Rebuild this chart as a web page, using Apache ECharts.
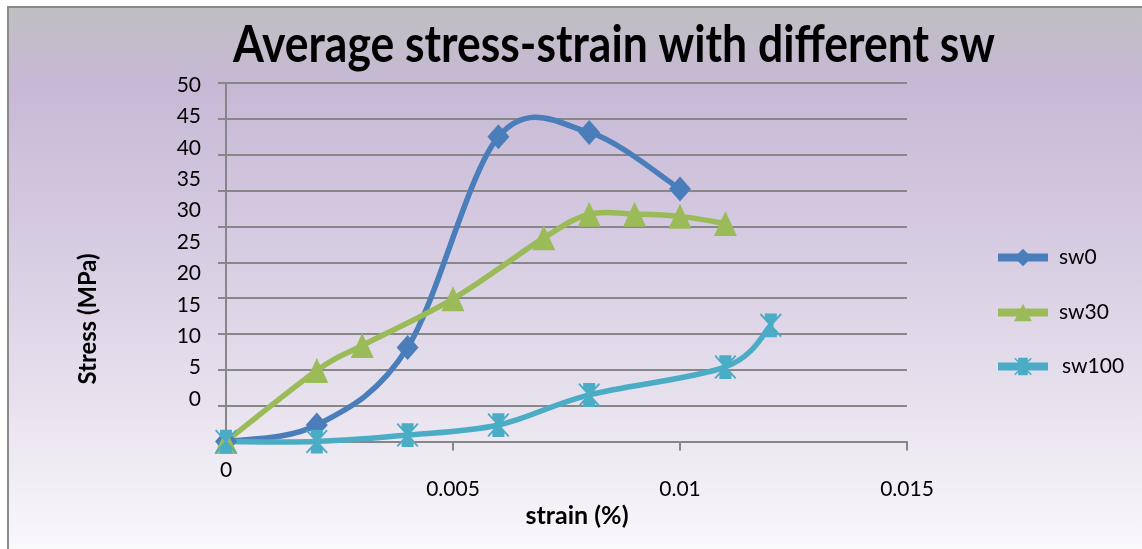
<!DOCTYPE html>
<html>
<head>
<meta charset="utf-8">
<script src="https://cdn.jsdelivr.net/npm/echarts@6/dist/echarts.min.js"></script>
<style>
  html, body { margin: 0; padding: 0; background: #ffffff; }
  #chart { width: 1142px; height: 549px; }
</style>
</head>
<body>
<div id="chart"></div>
<script>
// ---- data ----
const seriesNames = ['sw0', 'sw30', 'sw100'];

const sw0Strain = [0, 0.002, 0.004, 0.006, 0.008, 0.010];
const sw0Stress = [0, 2.3, 13.1, 42.5, 43.1, 35.2];

const sw30Strain = [0, 0.002, 0.003, 0.005, 0.007, 0.008, 0.009, 0.010, 0.011];
const sw30Stress = [0, 9.9, 13.4, 19.9, 28.4, 31.7, 31.7, 31.4, 30.4];

const sw100Strain = [0, 0.002, 0.004, 0.006, 0.008, 0.011, 0.012];
const sw100Stress = [0, 0, 0.9, 2.3, 6.5, 10.4, 16.2];

const stressTicks = [0, 5, 10, 15, 20, 25, 30, 35, 40, 45, 50];
const strainTicks = [0, 0.005, 0.01, 0.015];

const titleText = 'Average stress-strain with different sw';
const xTitle = 'strain (%)';
const yTitle = 'Stress (MPa)';

// ---- styling ----
const COLORS = ['#4a7ebb', '#9bbb59', '#4bacc6'];
const FONT = 'Lato, "Noto Sans", sans-serif';
const AXIS_GRAY = '#878787';
const LINE_W = 5.5;

// asterisk-style marker: filled hourglass with a thin cross through it
const STAR = 'path://M6,1 L18,1 L18,5 L13,12 L18,19 L18,23 L6,23 L6,19 L11,12 L6,5 Z ' +
  'M1,2 L2.4,0.8 L23,21.8 L21.6,23 Z M21.6,0.8 L23,2 L2.4,23 L1,21.8 Z';

function pairs(xs, ys) { return xs.map((x, i) => [x, ys[i]]); }

function textWidth(text, font) {
  const ctx = document.createElement('canvas').getContext('2d');
  ctx.font = font;
  return ctx.measureText(text).width;
}

// Smoothed curve drawn segment by segment (Catmull-Rom style Bezier,
// which lets the curve swing past a peak point the way spreadsheet smoothing does).
function curveSeries(xs, ys, color) {
  return {
    type: 'custom',
    silent: true,
    data: pairs(xs, ys),
    renderItem: function (params, api) {
      const i = params.dataIndex;
      const n = xs.length;
      if (i >= n - 1) return null;
      const P = k => {
        const j = Math.max(0, Math.min(n - 1, k));
        return api.coord([xs[j], ys[j]]);
      };
      const p0 = P(i - 1), p1 = P(i), p2 = P(i + 1), p3 = P(i + 2);
      return {
        type: 'bezierCurve',
        shape: {
          x1: p1[0], y1: p1[1], x2: p2[0], y2: p2[1],
          cpx1: p1[0] + (p2[0] - p0[0]) / 6, cpy1: p1[1] + (p2[1] - p0[1]) / 6,
          cpx2: p2[0] - (p3[0] - p1[0]) / 6, cpy2: p2[1] - (p3[1] - p1[1]) / 6
        },
        style: { stroke: color, lineWidth: LINE_W, fill: null, lineCap: 'round' }
      };
    }
  };
}

function markerSeries(idx, xs, ys, symbol, size) {
  return {
    name: seriesNames[idx], type: 'line',
    data: pairs(xs, ys),
    symbol: symbol, symbolSize: size, showAllSymbol: true,
    lineStyle: { color: COLORS[idx], width: LINE_W, opacity: 0 },
    itemStyle: { color: COLORS[idx] },
    z: 3
  };
}

// plot area
const G = { left: 226, top: 83, right: 235, bottom: 107.5 };
const plotH = 549 - G.top - G.bottom;
// tick labels sit on a slightly compressed scale: "0" at y=399, "50" at y=85
const labelPx = (399 - 85) / (stressTicks[stressTicks.length - 1] - stressTicks[0]);
const labelMin = -((549 - G.bottom) - 399) / labelPx;
const labelMax = labelMin + plotH / labelPx;

const titleFont = 'bold 52px ' + FONT;
const axisTitleFont = 'bold 24px ' + FONT;

const chart = echarts.init(document.getElementById('chart'), null, { renderer: 'canvas' });

const option = {
  animation: false,
  backgroundColor: '#ffffff',
  grid: Object.assign({ containLabel: false, outerBoundsMode: 'none' }, G),
  graphic: [
    {
      type: 'rect', z: -10, silent: true,
      shape: { x: 8, y: 7, width: 1160, height: 560 },
      style: {
        fill: {
          type: 'linear', x: 0, y: 0, x2: 0, y2: 1,
          colorStops: [
            { offset: 0, color: '#bfbfc0' },
            { offset: 0.14, color: '#c7b9d6' },
            { offset: 0.4, color: '#d5cae1' },
            { offset: 0.7, color: '#e7e1ed' },
            { offset: 1, color: '#fcfbfd' }
          ]
        },
        stroke: '#8a8a8a', lineWidth: 2
      }
    },
    {
      type: 'text', x: 614, y: 45,
      scaleX: 762 / textWidth(titleText, titleFont), scaleY: 1,
      style: {
        text: titleText, font: titleFont, fill: '#000000',
        align: 'center', verticalAlign: 'middle'
      }
    },
    {
      type: 'text', x: 88, y: 319, rotation: Math.PI / 2,
      scaleX: 131 / textWidth(yTitle, axisTitleFont), scaleY: 1,
      style: {
        text: yTitle, font: axisTitleFont, fill: '#000000',
        align: 'center', verticalAlign: 'middle'
      }
    },
    {
      type: 'text', x: 577, y: 516,
      scaleX: 103 / textWidth(xTitle, axisTitleFont), scaleY: 1,
      style: {
        text: xTitle, font: axisTitleFont, fill: '#000000',
        align: 'center', verticalAlign: 'middle'
      }
    }
  ],
  xAxis: [
    {
      type: 'value', position: 'bottom',
      min: strainTicks[0], max: strainTicks[strainTicks.length - 1],
      interval: strainTicks[1] - strainTicks[0],
      axisLine: { show: true, onZero: false, lineStyle: { color: AXIS_GRAY, width: 2 } },
      axisTick: { show: true, inside: false, length: 9, lineStyle: { color: AXIS_GRAY, width: 2 } },
      splitLine: { show: false },
      axisLabel: {
        customValues: strainTicks.slice(1), margin: 37,
        color: '#000000', fontFamily: FONT, fontSize: 21,
        formatter: v => String(v)
      }
    },
    {
      type: 'value', position: 'bottom',
      min: strainTicks[0], max: strainTicks[strainTicks.length - 1],
      axisLine: { show: false }, axisTick: { show: false }, splitLine: { show: false },
      axisLabel: {
        customValues: strainTicks.slice(0, 1), margin: 18,
        color: '#000000', fontFamily: FONT, fontSize: 21,
        formatter: v => String(v)
      }
    }
  ],
  yAxis: [
    {
      type: 'value', position: 'left',
      min: stressTicks[0], max: stressTicks[stressTicks.length - 1],
      interval: stressTicks[1] - stressTicks[0],
      axisLine: { show: true, onZero: false, lineStyle: { color: AXIS_GRAY, width: 2 } },
      axisTick: { show: true, inside: false, length: 8, lineStyle: { color: AXIS_GRAY, width: 2 } },
      splitLine: { show: true, lineStyle: { color: AXIS_GRAY, width: 2 } },
      axisLabel: { show: false }
    },
    {
      type: 'value', position: 'left',
      min: labelMin, max: labelMax,
      axisLine: { show: false }, axisTick: { show: false }, splitLine: { show: false },
      axisLabel: {
        customValues: stressTicks, margin: 25,
        color: '#000000', fontFamily: FONT, fontSize: 21,
        formatter: v => String(v)
      }
    }
  ],
  legend: [247, 302, 356].map((top, i) => ({
    data: [seriesNames[i]],
    left: 994, top: top, orient: 'vertical', padding: 0,
    itemWidth: 50, itemHeight: 22,
    lineStyle: { width: 8, opacity: 1 },
    selectedMode: false,
    textStyle: {
      color: '#000000', fontFamily: FONT, fontSize: 21,
      padding: [0, 0, 0, i === 2 ? 9 : 6]
    }
  })),
  series: [
    curveSeries(sw0Strain, sw0Stress, COLORS[0]),
    curveSeries(sw30Strain, sw30Stress, COLORS[1]),
    curveSeries(sw100Strain, sw100Stress, COLORS[2]),
    markerSeries(0, sw0Strain, sw0Stress, 'diamond', [22, 25]),
    markerSeries(1, sw30Strain, sw30Stress, 'triangle', [23, 25]),
    markerSeries(2, sw100Strain, sw100Stress, STAR, [22, 24])
  ]
};

chart.setOption(option);
</script>
</body>
</html>
